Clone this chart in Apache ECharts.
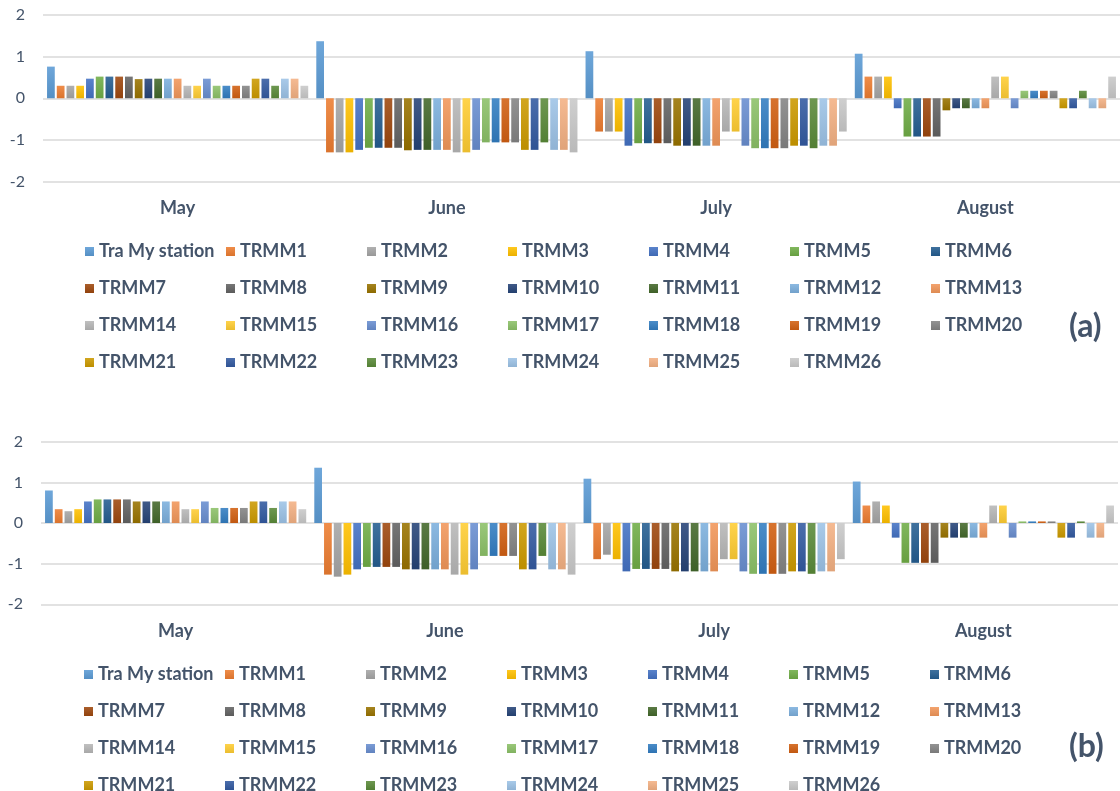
<!DOCTYPE html>
<html>
<head>
<meta charset="utf-8">
<script src="https://cdn.jsdelivr.net/npm/echarts@6/dist/echarts.min.js"></script>
<style>
html, body { margin: 0; padding: 0; background: #fff; }
#main { width: 1120px; height: 791px; }
</style>
</head>
<body>
<div id="main"></div>
<script>
var months = ['May', 'June', 'July', 'August'];

var seriesNames = ['Tra My station', 'TRMM1', 'TRMM2', 'TRMM3', 'TRMM4', 'TRMM5', 'TRMM6',
  'TRMM7', 'TRMM8', 'TRMM9', 'TRMM10', 'TRMM11', 'TRMM12', 'TRMM13',
  'TRMM14', 'TRMM15', 'TRMM16', 'TRMM17', 'TRMM18', 'TRMM19', 'TRMM20',
  'TRMM21', 'TRMM22', 'TRMM23', 'TRMM24', 'TRMM25', 'TRMM26'];

// panel (a): one row per series -> [May, June, July, August]
var valuesA = [
  [0.76, 1.37, 1.13, 1.07],
  [0.30, -1.30, -0.80, 0.52],
  [0.30, -1.30, -0.80, 0.52],
  [0.30, -1.30, -0.80, 0.52],
  [0.47, -1.24, -1.14, -0.24],
  [0.52, -1.19, -1.08, -0.92],
  [0.52, -1.19, -1.08, -0.92],
  [0.52, -1.19, -1.08, -0.92],
  [0.52, -1.19, -1.08, -0.92],
  [0.46, -1.25, -1.14, -0.29],
  [0.47, -1.24, -1.14, -0.24],
  [0.47, -1.24, -1.14, -0.24],
  [0.47, -1.24, -1.14, -0.24],
  [0.47, -1.24, -1.14, -0.24],
  [0.30, -1.30, -0.80, 0.52],
  [0.30, -1.30, -0.80, 0.52],
  [0.47, -1.24, -1.14, -0.24],
  [0.30, -1.06, -1.20, 0.18],
  [0.30, -1.06, -1.20, 0.18],
  [0.30, -1.06, -1.20, 0.18],
  [0.30, -1.06, -1.20, 0.18],
  [0.47, -1.24, -1.14, -0.24],
  [0.47, -1.24, -1.14, -0.24],
  [0.30, -1.06, -1.20, 0.18],
  [0.47, -1.24, -1.14, -0.24],
  [0.47, -1.24, -1.14, -0.24],
  [0.30, -1.30, -0.80, 0.52]
];

// panel (b)
var valuesB = [
  [0.80, 1.36, 1.09, 1.02],
  [0.34, -1.27, -0.89, 0.43],
  [0.29, -1.32, -0.78, 0.53],
  [0.34, -1.27, -0.89, 0.43],
  [0.53, -1.14, -1.19, -0.36],
  [0.58, -1.08, -1.13, -0.98],
  [0.58, -1.08, -1.13, -0.98],
  [0.58, -1.08, -1.13, -0.98],
  [0.58, -1.08, -1.13, -0.98],
  [0.53, -1.14, -1.19, -0.36],
  [0.53, -1.14, -1.19, -0.36],
  [0.53, -1.14, -1.19, -0.36],
  [0.53, -1.14, -1.19, -0.36],
  [0.53, -1.14, -1.19, -0.36],
  [0.34, -1.27, -0.89, 0.43],
  [0.34, -1.27, -0.89, 0.43],
  [0.53, -1.14, -1.19, -0.36],
  [0.37, -0.81, -1.25, 0.04],
  [0.37, -0.81, -1.25, 0.04],
  [0.37, -0.81, -1.25, 0.04],
  [0.37, -0.81, -1.25, 0.04],
  [0.53, -1.14, -1.19, -0.36],
  [0.53, -1.14, -1.19, -0.36],
  [0.37, -0.81, -1.25, 0.04],
  [0.53, -1.14, -1.19, -0.36],
  [0.53, -1.14, -1.19, -0.36],
  [0.34, -1.27, -0.89, 0.43]
];

var palette = ['#5B9BD5', '#ED7D31', '#A5A5A5', '#FFC000', '#4472C4', '#70AD47', '#255E91',
  '#9E480E', '#636363', '#997300', '#264478', '#43682B', '#7CAFDD', '#F1975A',
  '#B7B7B7', '#FFCD33', '#698ED0', '#8CC168', '#327DC2', '#D26012', '#848484',
  '#CC9A00', '#335AA1', '#5A8A39', '#9DC3E6', '#F4B183', '#C9C9C9'];

var textColor = '#44546A';
var fontName = 'Lato';

// blend a hex colour towards another rgb triple
function mix(hex, to, t) {
  var n = parseInt(hex.slice(1), 16);
  var c = [(n >> 16) & 255, (n >> 8) & 255, n & 255];
  return 'rgb(' + c.map(function (v, i) { return Math.round(v + (to[i] - v) * t); }).join(',') + ')';
}

function fill(hex) {
  return new echarts.graphic.LinearGradient(0, 0, 0, 1, [
    { offset: 0, color: mix(hex, [255, 255, 255], 0.12) },
    { offset: 1, color: mix(hex, [0, 0, 0], 0.08) }
  ]);
}

function makeSeries(values, panel) {
  return values.map(function (row, i) {
    return {
      name: seriesNames[i],
      type: 'bar',
      xAxisIndex: panel,
      yAxisIndex: panel,
      barGap: '26%',
      barCategoryGap: '3%',
      itemStyle: { color: fill(palette[i]) },
      data: row
    };
  });
}

// 7 columns, each ~141px wide
function legendFor(top, left) {
  return {
    data: seriesNames,
    top: top,
    left: left,
    width: 995,
    padding: 0,
    itemGap: 0,
    itemWidth: 9,
    itemHeight: 9,
    icon: 'rect',
    textStyle: {
      color: textColor,
      fontFamily: fontName,
      fontWeight: 'bold',
      fontSize: 18,
      width: 127,
      lineHeight: 37
    }
  };
}

function xAxisFor(idx) {
  return {
    type: 'category',
    gridIndex: idx,
    data: months,
    axisLine: { show: false, onZero: false },
    axisTick: { show: false },
    axisLabel: { color: textColor, fontFamily: fontName, fontWeight: 'bold', fontSize: 18, margin: 18 }
  };
}

function yAxisFor(idx) {
  return {
    type: 'value',
    gridIndex: idx,
    min: -2,
    max: 2,
    interval: 1,
    axisLine: { show: false },
    axisTick: { show: false },
    axisLabel: { color: textColor, fontFamily: fontName, fontSize: 16, margin: 18 },
    splitLine: { lineStyle: { color: '#D9D9D9', width: 1.5 } }
  };
}

var chart = echarts.init(document.getElementById('main'));

chart.setOption({
  backgroundColor: '#fff',
  animation: false,
  title: [
    { text: '(a)', left: 1064, top: 306, textStyle: { color: textColor, fontFamily: fontName, fontWeight: 'bold', fontSize: 32 } },
    { text: '(b)', left: 1064, top: 726, textStyle: { color: textColor, fontFamily: fontName, fontWeight: 'bold', fontSize: 32 } }
  ],
  legend: [legendFor(233, 85), legendFor(656, 84)],
  grid: [
    { left: 43, right: 0, top: 15, height: 166.5 },
    { left: 41, right: 2, top: 441.7, height: 162.6 }
  ],
  xAxis: [xAxisFor(0), xAxisFor(1)],
  yAxis: [yAxisFor(0), yAxisFor(1)],
  series: makeSeries(valuesA, 0).concat(makeSeries(valuesB, 1))
});
</script>
</body>
</html>
